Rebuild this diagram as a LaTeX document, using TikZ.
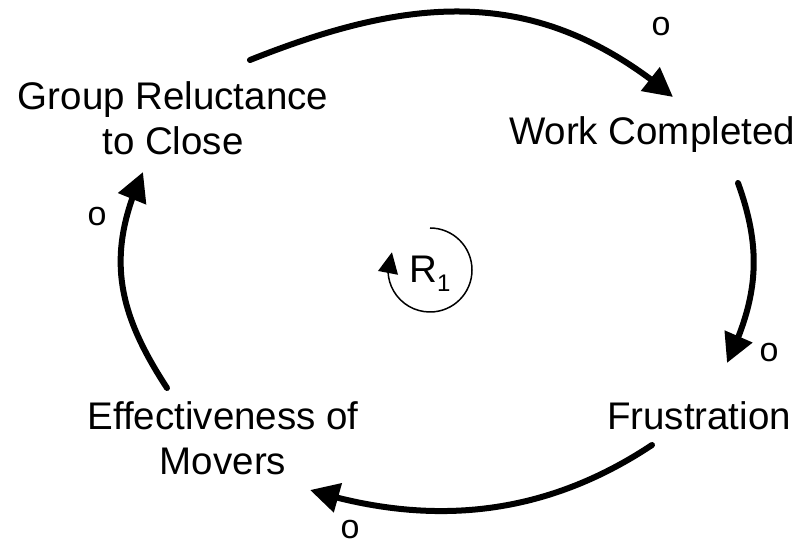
\documentclass[tikz,border=0pt]{standalone}
\usepackage{fontspec}
\setmainfont{Liberation Sans}
\usetikzlibrary{arrows.meta,bending}
\tikzstyle{var} = [inner sep=0pt, align=center, font=\fontsize{38.5}{45}\selectfont]
\tikzstyle{pol} = [inner sep=0pt, font=\fontsize{34}{34}\selectfont]
\tikzstyle{link} = [line width=6pt, line cap=round, -{Triangle[length=29pt,width=29pt]}]
\tikzstyle{loopsign} = [line width=1.5pt, -{Triangle[length=21pt,width=20pt,flex]}]

\begin{document}
\begin{tikzpicture}[x=1pt, y=1pt]
    \useasboundingbox (0,0) rectangle (801,546);
    % Define the nodes
    \node [var] (group) at (173,427.5) {Group Reluctance\\to Close};
    \node [var, anchor=base] (work) at (652,401) {Work Completed};
    \node [var, anchor=base] (frust) at (699,116) {Frustration};
    \node [var] (eff) at (223,107.5) {Effectiveness of\\Movers};
    \node [var, anchor=base] (r1) at (430,263) {R\raisebox{-9pt}{\fontsize{24}{24}\selectfont 1}};
    % Polarity signs
    \node [pol] (pol1) at (661,519) {o};
    \node [pol] (pol2) at (769,193) {o};
    \node [pol] (pol3) at (350,16) {o};
    \node [pol] (pol4) at (97,329) {o};
    % Ends of the links
    \coordinate (group-out) at (250,486);
    \coordinate (work-in) at (673,449);
    \coordinate (work-out) at (738,363);
    \coordinate (frust-in) at (727,183);
    \coordinate (frust-out) at (652,101);
    \coordinate (eff-in) at (310,56);
    \coordinate (eff-out) at (167,158);
    \coordinate (group-in) at (143,374);
    % Connect the nodes
    \draw [link] (group-out) .. controls (413,551) and (539,561.7) .. (work-in);
    \draw [link] (work-out) .. controls (762.5,295.3) and (758,248) .. (frust-in);
    \draw [link] (frust-out) .. controls (547,31.2) and (434,17.6) .. (eff-in);
    \draw [link] (eff-out) .. controls (117,234.5) and (105,291.2) .. (group-in);
    % Loop sign
    \draw [loopsign] (r1.base) ++(0,55) arc[start angle=90, end angle=-205, radius=42];
\end{tikzpicture}
\end{document}
